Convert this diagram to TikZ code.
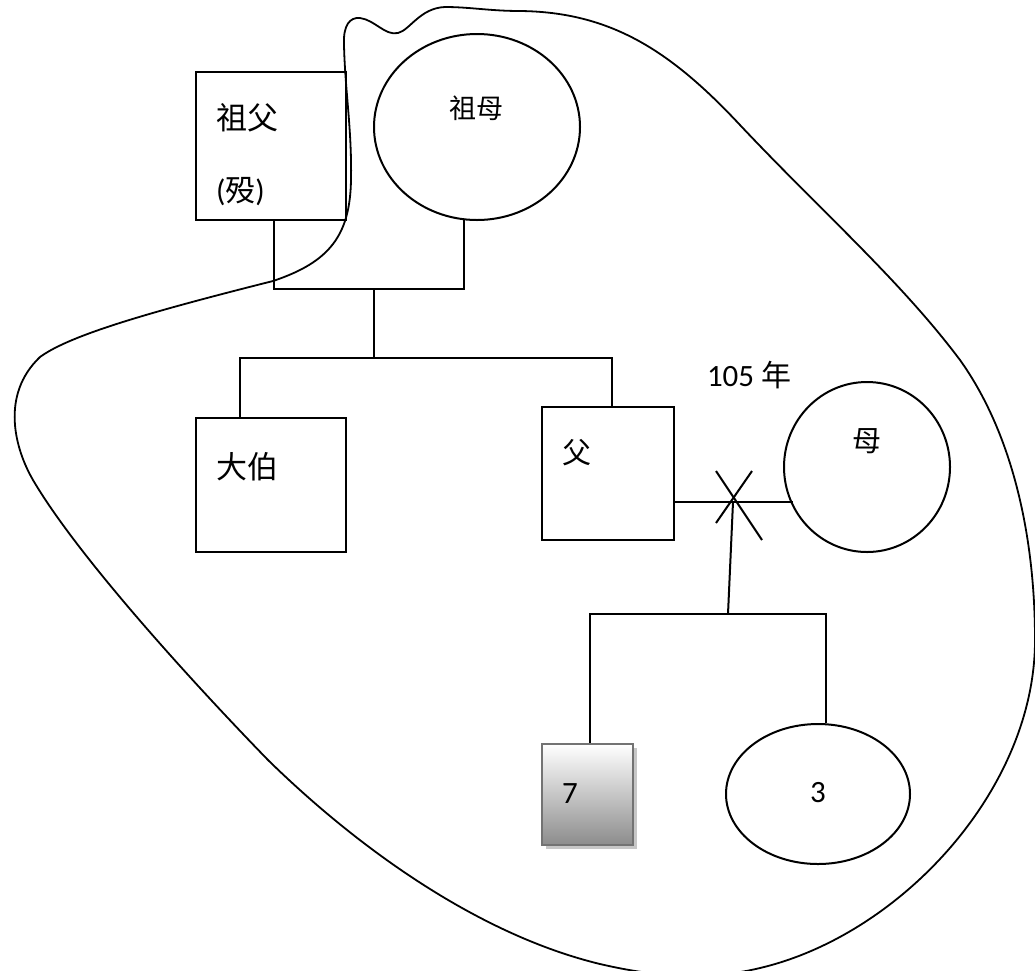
\documentclass[tikz,border=0pt]{standalone}
\usepackage{fontspec}
\setmainfont{Carlito}
\newfontfamily\cjk{Noto Sans CJK TC}
\usetikzlibrary{shapes.geometric,shadows}
\begin{document}
\begin{tikzpicture}[x=1pt,y=-1pt,line width=2pt,
  person/.style={draw,rectangle,inner sep=0pt},
  circ/.style={draw,ellipse,inner sep=0pt},
  lbl/.style={inner sep=0pt,font=\cjk\fontsize{31}{33}\selectfont},
  num/.style={inner sep=0pt,font=\fontsize{31}{33}\selectfont},
  link/.style={draw,line width=2pt},
  blob/.style={draw,line width=1.8pt}]
\useasboundingbox (0,0) rectangle (1035,970);

% boundary
\draw[blob] (344,45) .. controls (343,25) and (350,17) .. (360,18)
  .. controls (375,20) and (385,36) .. (398,33)
  .. controls (410,30) and (420,8) .. (445,7)
  .. controls (470,7) and (490,11) .. (520,11)
  .. controls (610,12) and (670,50) .. (740,125)
  .. controls (820,210) and (900,280) .. (960,360)
  .. controls (1010,430) and (1035,530) .. (1035,640)
  .. controls (1035,790) and (900,935) .. (760,968)
  .. controls (710,980) and (660,978) .. (600,964)
  .. controls (480,935) and (360,850) .. (268,760)
  .. controls (200,690) and (80,560) .. (33,480)
  .. controls (15,449) and (0,395) .. (40,357)
  .. controls (70,335) and (150,312) .. (273,281)
  .. controls (330,262) and (350,235) .. (351,180)
  .. controls (352,130) and (345,90) .. (344,45) -- cycle;

% persons
\node[person,minimum width=150pt,minimum height=148pt] (gf) at (271,146) {};
\node[circ,minimum width=206pt,minimum height=186pt] (gm) at (477,127) {};
\node[person,minimum width=150pt,minimum height=134pt] (uncle) at (271,485) {};
\node[person,minimum width=132pt,minimum height=133pt] (fa) at (608,473.5) {};
\node[circ,minimum width=166pt,minimum height=170pt] (mo) at (867,467) {};
\node[rectangle,draw=black!55,inner sep=0pt,minimum width=91pt,minimum height=101pt,
      top color=white,bottom color=black!45,
      drop shadow={shadow xshift=4pt,shadow yshift=-4pt,fill=black!22,opacity=1}] (son) at (587.5,794.5) {};
\node[circ,minimum width=184pt,minimum height=140pt] (da) at (818,794) {};

% labels
\node[lbl,anchor=west] (tgf) at (215,118) {祖父};
\node[num,anchor=west] (tgfd) at (215,192) {({\cjk\fontsize{30}{32}\selectfont 殁})};
\node[lbl,font=\cjk\fontsize{27}{29}\selectfont] (tgm) at (476,108) {祖母};
\node[lbl,anchor=west] (tun) at (215,467) {大伯};
\node[lbl,font=\cjk\fontsize{29}{31}\selectfont] (tfa) at (577,453) {父};
\node[lbl,font=\cjk\fontsize{29}{31}\selectfont] (tmo) at (867,441) {母};
\node[num,anchor=west] (tyr) at (706,375) {105 {\cjk\fontsize{30}{32}\selectfont 年}};
\node[num] (tson) at (570,794) {7};
\node[num] (tda) at (818,793) {3};

% junction coordinates
\coordinate (gmb) at (464,219);
\coordinate (pj) at (374,289);
\coordinate (sl) at (240,358);
\coordinate (sr) at (612,358);
\coordinate (mr) at (674,502);
\coordinate (ml) at (793,502);
\coordinate (cj) at (733,502);
\coordinate (cb) at (728,614);
\coordinate (cl) at (590,614);
\coordinate (cr) at (826,614);

% parents of father
\draw[link] (gf.south -| 274,0) |- (pj) -| (gmb);
\draw[link] (pj) -- (pj |- sl);
\draw[link] (uncle.north -| sl) |- (sr) -- (fa.north -| sr);
% marriage
\draw[link] (fa.east |- mr) -- (ml);
\draw[link] (716,471) -- (762,540);
\draw[link] (752,471) -- (716,523);
% children
\draw[link] (cj) -- (cb);
\draw[link] (son.north -| cl) |- (cr) -- (da.north -| cr);
\end{tikzpicture}
\end{document}
